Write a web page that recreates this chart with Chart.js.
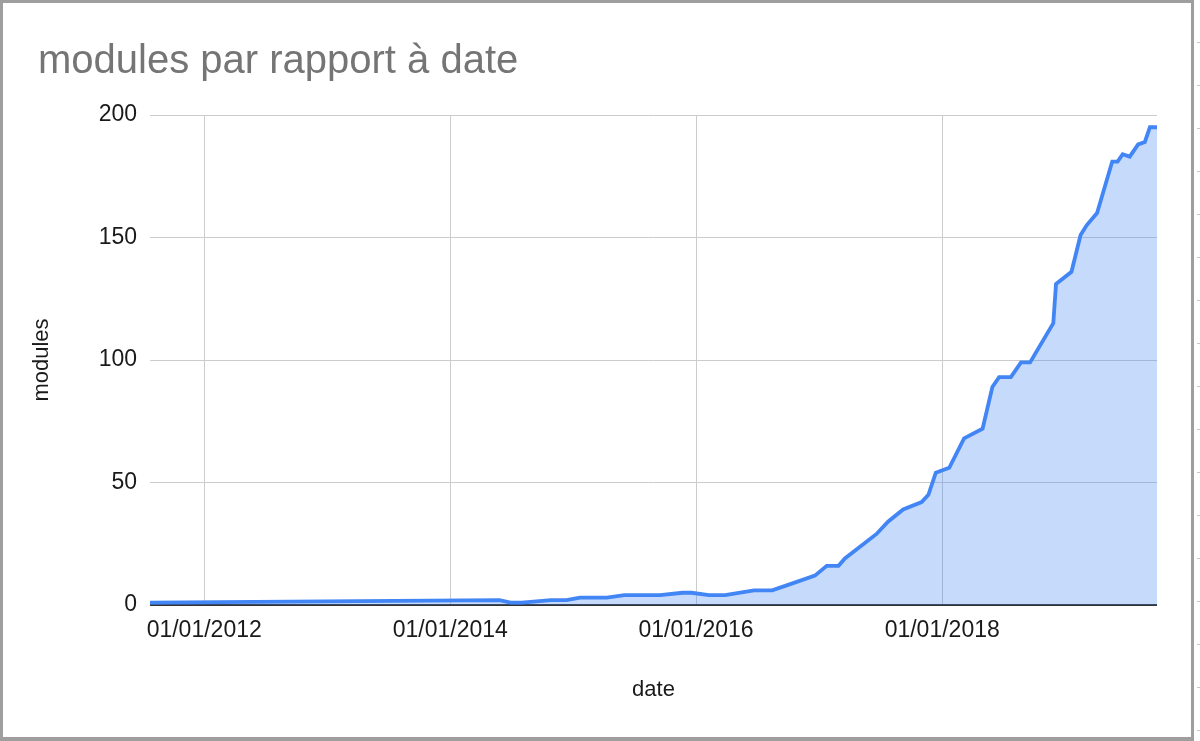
<!DOCTYPE html>
<html>
<head>
<meta charset="utf-8">
<script src="https://cdn.jsdelivr.net/npm/chart.js@4"></script>
<style>
  html, body { margin: 0; padding: 0; background: #fff; }
  #wrap { position: absolute; left: 0; top: 0; width: 1200px; height: 741px; }
  #frame { position: absolute; left: 0; top: 0; width: 1194px; height: 741px; box-sizing: border-box;
           border-top: 3px solid #9e9e9e; border-left: 3px solid #9e9e9e; border-bottom: 4px solid #9e9e9e;
           border-right: 3px solid #9e9e9e; pointer-events: none; }
  #side { position: absolute; left: 1197px; top: 0; width: 3px; height: 737px; pointer-events: none;
          background: repeating-linear-gradient(to bottom, transparent 0px, transparent 42px, #c8c8c8 42px, #c8c8c8 43px); }
</style>
</head>
<body>
<div id="wrap"><canvas id="c"></canvas></div>
<div id="frame"></div>
<div id="side"></div>
<script>
const chartTitle = 'modules par rapport à date';
const xAxisTitle = 'date';
const yAxisTitle = 'modules';

const dates = ['2011-07-24','2014-05-27','2014-06-29','2014-08-01','2014-10-27','2014-12-12',
  '2015-01-21','2015-04-11','2015-06-02','2015-09-16','2015-11-22','2015-12-18',
  '2016-02-08','2016-03-27','2016-06-21','2016-08-14','2016-09-26','2016-12-19',
  '2017-01-23','2017-02-27','2017-03-18','2017-06-20','2017-07-24','2017-09-07','2017-11-01','2017-11-21','2017-12-13',
  '2018-01-22','2018-03-07','2018-05-01','2018-05-30','2018-06-19','2018-07-24','2018-08-23','2018-09-19','2018-11-27','2018-12-05',
  '2019-01-20','2019-02-16','2019-03-06','2019-04-06','2019-05-21','2019-06-06','2019-06-21','2019-07-12','2019-08-06','2019-08-26','2019-09-10','2019-10-01'];
const modules = [1,2,1,1,2,2,3,3,4,4,5,5,4,4,6,6,8,12,16,16,19,29,34,39,42,45,54,56,68,72,89,93,93,99,99,115,131,136,151,155,160,181,181,184,183,188,189,195,195];

const xTickDates = ['2012-01-01','2014-01-01','2016-01-01','2018-01-01'];
const yTicks = [0, 50, 100, 150, 200];
const xMin = '2011-07-24';
const xMax = '2019-10-01';

const FONT = '"Liberation Sans", Arial, Helvetica, sans-serif';
const pad2 = n => String(n).padStart(2, '0');
const fmtDate = v => { const d = new Date(v); return pad2(d.getUTCDate()) + '/' + pad2(d.getUTCMonth() + 1) + '/' + d.getUTCFullYear(); };

const points = dates.map((d, i) => ({ x: Date.parse(d), y: modules[i] }));

new Chart(document.getElementById('c'), {
  type: 'line',
  data: {
    datasets: [{
      data: points,
      borderColor: '#4285f4',
      backgroundColor: 'rgba(66,133,244,0.3)',
      borderWidth: 3.8,
      fill: 'origin',
      pointRadius: 0,
      tension: 0
    }]
  },
  options: {
    responsive: true,
    maintainAspectRatio: false,
    animation: false,
    layout: { padding: { left: 38, right: 43, top: 38, bottom: 26 } },
    plugins: {
      legend: { display: false },
      tooltip: { enabled: false },
      title: {
        display: true, text: chartTitle, align: 'start', color: '#757575',
        font: { family: FONT, size: 40, weight: 'normal' },
        padding: { top: 0, bottom: 29 }
      }
    },
    scales: {
      x: {
        type: 'linear',
        min: Date.parse(xMin), max: Date.parse(xMax),
        afterBuildTicks: s => { s.ticks = xTickDates.map(d => ({ value: Date.parse(d) })); },
        afterFit: s => { s.height = 110; },
        grid: { color: '#cccccc', lineWidth: 1, drawTicks: false, tickLength: 0 },
        border: { display: false },
        ticks: { callback: v => fmtDate(v), color: '#1a1a1a', padding: 12, maxRotation: 0, autoSkip: false,
                 font: { family: FONT, size: 23 } },
        title: { display: true, text: xAxisTitle, color: '#1a1a1a', font: { family: FONT, size: 22 },
                 padding: { top: 0, bottom: 12 } }
      },
      y: {
        min: 0, max: 200,
        afterBuildTicks: s => { s.ticks = yTicks.map(v => ({ value: v })); },
        afterFit: s => { s.width = 112; },
        grid: {
          color: c => (c.tick && c.tick.value === 0) ? '#333333' : '#cccccc',
          lineWidth: c => (c.tick && c.tick.value === 0) ? 2 : 1,
          drawTicks: false, tickLength: 0
        },
        border: { display: false },
        ticks: { color: '#1a1a1a', padding: 13, font: { family: FONT, size: 23 } },
        title: { display: true, text: yAxisTitle, color: '#1a1a1a', font: { family: FONT, size: 22 },
                 padding: { top: -9, bottom: 0 } }
      }
    }
  }
});
</script>
</body>
</html>
